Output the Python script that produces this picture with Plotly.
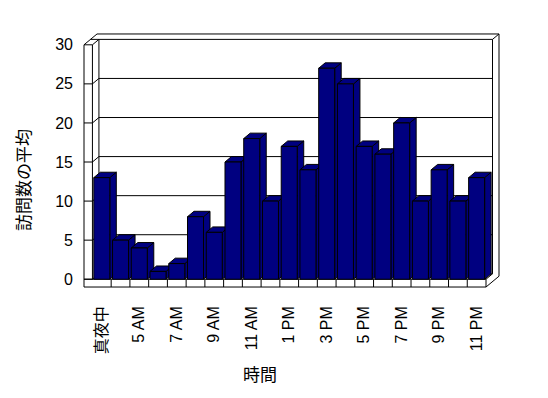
import plotly.graph_objects as go

# ---- data ----
hours = ["真夜中", "4 AM", "5 AM", "6 AM", "7 AM", "8 AM", "9 AM", "10 AM", "11 AM", "正午",
         "1 PM", "2 PM", "3 PM", "4 PM", "5 PM", "6 PM", "7 PM", "8 PM", "9 PM", "10 PM", "11 PM"]
visits = [13, 5, 4, 1, 2, 8, 6, 15, 18, 10, 17, 14, 27, 25, 17, 16, 20, 10, 14, 10, 13]
y_ticks = [0, 5, 10, 15, 20, 25, 30]
y_title = "訪問数の平均"
x_title = "時間"

# ---- geometry (pseudo-3D, in axis units) ----
PX_X, PX_Y = 18.74, 7.935
dx, dy = 6.5 / PX_X, 5.5 / PX_Y          # depth offset
wall = 0.45                              # left wall thickness
floor_h = 1.0                            # floor thickness
bw = 0.854                               # bar width
n = len(hours)
xl, xr = -0.5, n - 0.5
ymax = y_ticks[-1]
NAVY = "#000080"

fig = go.Figure()

# frame lines
fx, fy = [], []
def seg(pts):
    for p in pts:
        fx.append(p[0]); fy.append(p[1])
    fx.append(None); fy.append(None)

for v in y_ticks:
    seg([(xl - wall, v), (xl, v), (xl + dx, v + dy), (xr + dx, v + dy)])
seg([(xl - wall, -floor_h), (xl - wall, ymax)])
seg([(xl, 0), (xl, ymax)])
seg([(xl + dx, dy), (xl + dx, ymax + dy)])
seg([(xl - wall, ymax), (xl - wall + 2 * dx, ymax + 2 * dy), (xr + 2 * dx, ymax + 2 * dy)])
seg([(xl - wall + dx, ymax + dy), (xl + dx, ymax + dy)])
seg([(xr + dx, ymax + dy), (xr + 2 * dx, ymax + 2 * dy)])
seg([(xr + dx, dy), (xr + dx, ymax + dy)])
seg([(xr + 2 * dx, -floor_h + 2 * dy), (xr + 2 * dx, ymax + 2 * dy)])
seg([(xl - wall, -floor_h), (xr, -floor_h), (xr + 2 * dx, -floor_h + 2 * dy)])
seg([(xl - wall, 0), (xr, 0)])
seg([(xr, -floor_h), (xr, 0), (xr + dx, dy)])
for i in range(n - 1):
    seg([(i + 0.5, -floor_h), (i + 0.5, 0)])

fig.add_trace(go.Scatter(x=fx, y=fy, mode="lines", line=dict(color="black", width=1),
                         hoverinfo="skip", showlegend=False))

# bar side and top faces
sx, sy, tx, ty = [], [], [], []
for i, v in enumerate(visits):
    r = i + bw / 2
    l = i - bw / 2
    sx += [r, r + dx, r + dx, r, r, None]
    sy += [0, dy, v + dy, v, 0, None]
    tx += [l, r, r + dx, l + dx, l, None]
    ty += [v, v, v + dy, v + dy, v, None]
for X, Y in ((sx, sy), (tx, ty)):
    fig.add_trace(go.Scatter(x=X, y=Y, mode="lines", fill="toself", fillcolor=NAVY,
                             line=dict(color="black", width=1), hoverinfo="skip",
                             showlegend=False))

# bar front faces
fig.add_trace(go.Bar(x=list(range(n)), y=visits, width=bw, marker=dict(color=NAVY,
                     line=dict(color="black", width=1)), xaxis="x2", yaxis="y2",
                     showlegend=False, hovertext=hours))

L, R, T, B = 82, 47, 32, 109
x0 = xl - wall - 2 / PX_X
x1 = xr + 2 * dx + 2 / PX_X
y0 = -floor_h - 2 / PX_Y
y1 = ymax + 2 * dy + 2 / PX_Y

font = "Liberation Sans, Arial, Noto Sans CJK JP"
fig.update_layout(
    width=548, height=398, margin=dict(l=L, r=R, t=T, b=B),
    paper_bgcolor="white", plot_bgcolor="white",
    font=dict(family=font, size=16, color="#000000"),
    xaxis=dict(range=[x0, x1], showgrid=False, zeroline=False, showline=False,
               tickmode="array", tickvals=list(range(0, n, 2)), ticktext=hours[0::2],
               tickangle=-90, ticks="", ticklabelstandoff=13, fixedrange=True,
               tickfont=dict(color="#000000")),
    yaxis=dict(range=[y0, y1], showgrid=False, zeroline=False, showline=False,
               tickmode="array", tickvals=y_ticks, ticks="", ticklabelstandoff=8,
               fixedrange=True),
    xaxis2=dict(range=[x0, x1], overlaying="x", visible=False),
    yaxis2=dict(range=[y0, y1], overlaying="y", visible=False),
    annotations=[
        dict(text=x_title, x=(260 - L) / (548 - L - R), y=(398 - B - 375) / (398 - T - B),
             xref="paper", yref="paper", showarrow=False, font=dict(size=17),
             xanchor="center", yanchor="middle"),
        dict(text=y_title, x=(24 - L) / (548 - L - R), y=(398 - B - 180) / (398 - T - B),
             xref="paper", yref="paper", showarrow=False, font=dict(size=17),
             textangle=-90, xanchor="center", yanchor="middle"),
    ],
)

fig.write_html("out.html")
